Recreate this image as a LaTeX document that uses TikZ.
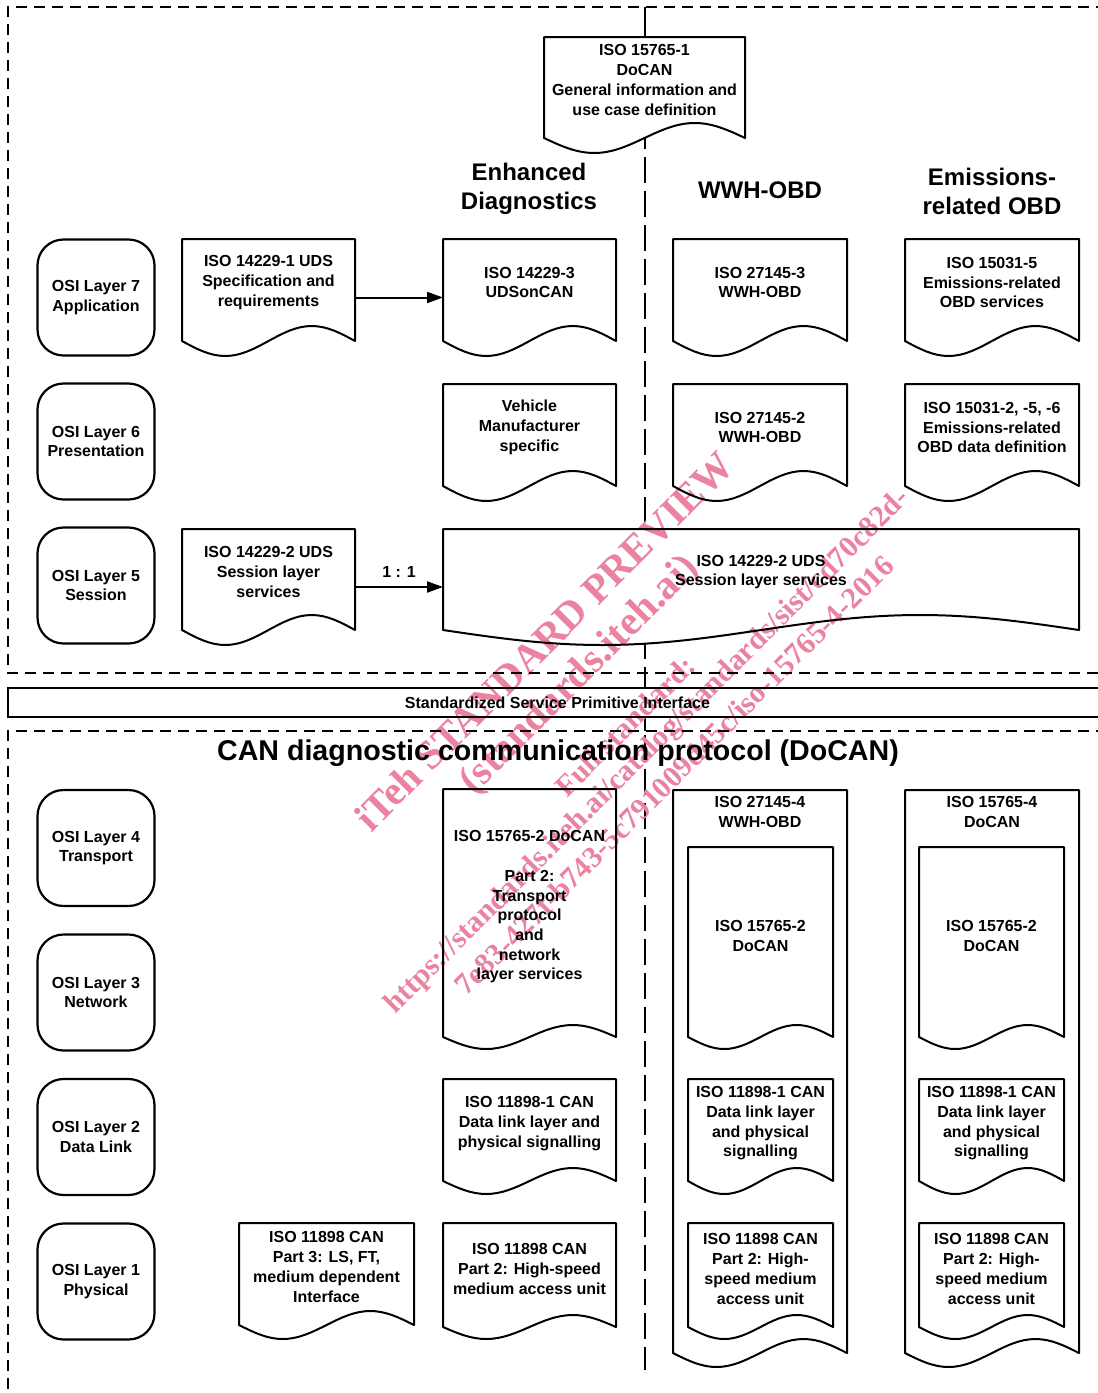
\documentclass[tikz,border=0pt]{standalone}
\usepackage{fontspec}
\setmainfont{Liberation Sans}
\newfontfamily\wmfont{Liberation Serif}
\usetikzlibrary{positioning, calc, arrows.meta, backgrounds}
\pgfdeclarelayer{watermark}
\pgfsetlayers{background,watermark,main}
\definecolor{wmpink}{RGB}{234,130,160}
\newcommand{\docfont}{\bfseries\fontsize{16}{19.7}\selectfont}
\newcommand{\headfont}{\bfseries\fontsize{24}{29}\selectfont}
\newcommand{\wmbig}{\wmfont\bfseries\fontsize{41}{49}\selectfont}
\newcommand{\wmsmall}{\wmfont\bfseries\fontsize{30}{36}\selectfont}
% document outline: #1 node, #2 wave height
\newcommand{\docpath}[2]{($(#1.south west)+(0,#2)$) -- (#1.north west)
  -- (#1.north east) -- ($(#1.south east)+(0,#2)$)
  sin ($(#1.south west)!.75!(#1.south east)$)
  cos ($(#1.south)+(0,#2)$)
  sin ($(#1.south west)!.25!(#1.south east)+(0,2*#2)$)
  cos ($(#1.south west)+(0,#2)$) -- cycle}
\tikzset{
  osibox/.style={rectangle, rounded corners=26pt, draw, line width=2.2pt,
    minimum width=117pt, minimum height=116pt, inner sep=0pt, outer sep=0pt,
    align=center, font=\docfont},
  doc/.style={rectangle, inner sep=0pt, outer sep=0pt, align=center,
    font=\docfont, minimum width=173pt, minimum height=87pt},
  docline/.style={line width=2pt, line join=round},
  header/.style={align=center, font=\headfont},
  arrow/.style={-{Triangle[length=16pt, width=11pt]}, line width=2pt},
  border/.style={line width=1.3pt, dash pattern=on 11pt off 7pt},
  axis/.style={line width=2pt, dash pattern=on 26pt off 8pt},
  wm/.style={text=wmpink, rotate=45, inner sep=0pt},
}
\begin{document}
\begin{tikzpicture}[x=1pt, y=-1pt]
  \useasboundingbox (0,0) rectangle (1098,1393);
  \coordinate (topline) at (0,7);
  \coordinate (axisend) at (0,1370);

  % Frames
  \draw[border] (1107,7) -- (8,7) -- (8,673) -- (1107,673);
  \draw[border] (1107,731) -- (8,731) -- (8,1400);

  % General information
  \node[doc, minimum width=201pt, minimum height=86pt] (gi) at (644.5,80)
    {ISO 15765-1\\DoCAN\\General information and\\use case definition};

  % Column headers
  \node[header] (hed)  at (529,189) {Enhanced\\Diagnostics};
  \node[header] (hwwh) at (760,190) {WWH-OBD};
  \node[header] (hobd) at (992,191) {Emissions-\\related OBD};

  % OSI layers 7 to 5
  \node[osibox] (osi7) at (96,297.5)   {OSI Layer 7\\Application};
  \node[osibox, below=28pt of osi7] (osi6) {OSI Layer 6\\Presentation};
  \node[osibox, below=28pt of osi6] (osi5) {OSI Layer 5\\Session};

  % Row 7
  \node[doc] (uds1) at (268.5,282.5) {ISO 14229-1 UDS\\Specification and\\requirements};
  \node[doc, right=88pt of uds1] (uds3) {ISO 14229-3\\UDSonCAN};
  \node[doc, minimum width=174pt, right=57pt of uds3] (wwh3) {ISO 27145-3\\WWH-OBD};
  \node[doc, minimum width=174pt, right=58pt of wwh3] (obd5) {ISO 15031-5\\Emissions-related\\OBD services};

  % Row 6
  \node[doc, below=58pt of uds3] (vms) {Vehicle\\Manufacturer\\specific};
  \node[doc, minimum width=174pt, below=58pt of wwh3] (wwh2) {ISO 27145-2\\WWH-OBD};
  \node[doc, minimum width=174pt, below=58pt of obd5] (obd2) {ISO 15031-2, -5, -6\\Emissions-related\\OBD data definition};

  % Row 5
  \node[doc, minimum height=86pt] (uds2) at (268.5,572) {ISO 14229-2 UDS\\Session layer\\services};
  \node[doc, minimum width=636pt, minimum height=86pt] (sls) at (761,572) {ISO 14229-2 UDS\\Session layer services};

  % Interface
  \node[rectangle, inner sep=0pt, minimum width=1099pt, minimum height=29pt,
        font=\docfont] (ssp) at (557.5,702.5) {Standardized Service Primitive Interface};
  \draw[line width=1.5pt] (ssp.north east) -- (ssp.north west) -- (ssp.south west) -- (ssp.south east);

  \node[font=\bfseries\fontsize{28.6}{34}\selectfont] (title) at (558,753)
    {CAN diagnostic communication protocol (DoCAN)};

  % OSI layers 4 to 1
  \node[osibox] (osi4) at (96,848) {OSI Layer 4\\Transport};
  \node[osibox, below=28.5pt of osi4] (osi3) {OSI Layer 3\\Network};
  \node[osibox, below=28.5pt of osi3] (osi2) {OSI Layer 2\\Data Link};
  \node[osibox, below=28.5pt of osi2] (osi1) {OSI Layer 1\\Physical};

  % Enhanced diagnostics, lower layers
  \node[doc, minimum height=236pt] (edtp) at (529.5,907)
    {ISO 15765-2 DoCAN\\[19.7pt]Part 2:\\Transport\\protocol\\and\\network\\layer services};
  \node[doc, minimum height=89pt, below=54pt of edtp] (eddl) {ISO 11898-1 CAN\\Data link layer and\\physical signalling};
  \node[doc, minimum height=92pt, below=55pt of eddl] (edph) {ISO 11898 CAN\\Part 2: High-speed\\medium access unit};
  \node[doc, minimum width=175pt, minimum height=88pt] (medi) at (326.5,1267)
    {ISO 11898 CAN\\Part 3: LS, FT,\\medium dependent\\Interface};

  % WWH-OBD stack
  \node[doc, minimum width=174pt, minimum height=549pt,
        label={[font=\docfont, align=center, anchor=north, inner sep=6pt]north:{ISO 27145-4\\WWH-OBD}}]
        (wwh4) at (760,1064.5) {};
  \node[doc, minimum width=145pt, minimum height=178pt] (wwhtp) at (760.5,936) {ISO 15765-2\\DoCAN};
  \node[doc, minimum width=145pt, minimum height=89pt, below=54pt of wwhtp] (wwhdl) {ISO 11898-1 CAN\\Data link layer\\and physical\\signalling};
  \node[doc, minimum width=145pt, minimum height=92pt, below=55pt of wwhdl] (wwhph) {ISO 11898 CAN\\Part 2: High-\\speed medium\\access unit};

  % Emissions-related OBD stack
  \node[doc, minimum width=174pt, minimum height=549pt,
        label={[font=\docfont, align=center, anchor=north, inner sep=6pt]north:{ISO 15765-4\\DoCAN}}]
        (obd4) at (992,1064.5) {};
  \node[doc, minimum width=145pt, minimum height=178pt] (obdtp) at (991.5,936) {ISO 15765-2\\DoCAN};
  \node[doc, minimum width=145pt, minimum height=89pt, below=54pt of obdtp] (obddl) {ISO 11898-1 CAN\\Data link layer\\and physical\\signalling};
  \node[doc, minimum width=145pt, minimum height=92pt, below=55pt of obddl] (obdph) {ISO 11898 CAN\\Part 2: High-\\speed medium\\access unit};

  % Arrows
  \draw[arrow] ([yshift=-15pt]uds1.east) -- ([yshift=-15pt]uds3.west);
  \draw[arrow] ([yshift=-15pt]uds2.east) -- node[midway, above=5pt, font=\docfont] {1 : 1} ([yshift=-15pt]sls.west);

  % Document outlines
  \foreach \n/\a in {gi/15, uds1/15, uds3/15, wwh3/15, obd5/15, vms/15, wwh2/15,
      obd2/15, uds2/15, sls/15, edtp/12, eddl/13, edph/12, medi/14, wwh4/14,
      wwhtp/12, wwhdl/13, wwhph/12, obd4/14, obdtp/12, obddl/13, obdph/12}
    \draw[docline] \docpath{\n}{\a};

  % Axis and white fills
  \begin{scope}[on background layer]
    \draw[line width=2pt] (gi.north |- topline) -- (gi.north);
    \draw[axis] (gi.south) -- (gi.south |- axisend);
    \draw[line width=2pt] (gi.south |- ssp.north) -- +(0,-15);
    \draw[line width=2pt] (gi.south |- ssp.south) -- +(0,14);
    \fill[white] (ssp.north west) rectangle (ssp.south east);
    \foreach \n/\a in {gi/15, uds1/15, uds3/15, wwh3/15, obd5/15, vms/15, wwh2/15,
        obd2/15, uds2/15, sls/15, edtp/12, eddl/13, edph/12, medi/14, wwh4/14,
        wwhtp/12, wwhdl/13, wwhph/12, obd4/14, obdtp/12, obddl/13, obdph/12}
      \fill[white] \docpath{\n}{\a};
  \end{scope}

  % Watermark
  \begin{pgfonlayer}{watermark}
    \node[wm, font=\wmbig]   (wm1) at (544,641) {iTeh STANDARD PREVIEW};
    \node[wm, font=\wmbig]   (wm2) at (580,676) {(standards.iteh.ai)};
    \node[wm, font=\wmsmall] (wm3) at (625,726) {Full standard:};
    \node[wm, font=\wmsmall] (wm4) at (648,752) {https://standards.iteh.ai/catalog/standards/sist/cd70c82d-};
    \node[wm, font=\wmsmall] (wm5) at (674,775) {7e83-427f-b743-5c791009d45c/iso-15765-4-2016};
  \end{pgfonlayer}
\end{tikzpicture}
\end{document}
